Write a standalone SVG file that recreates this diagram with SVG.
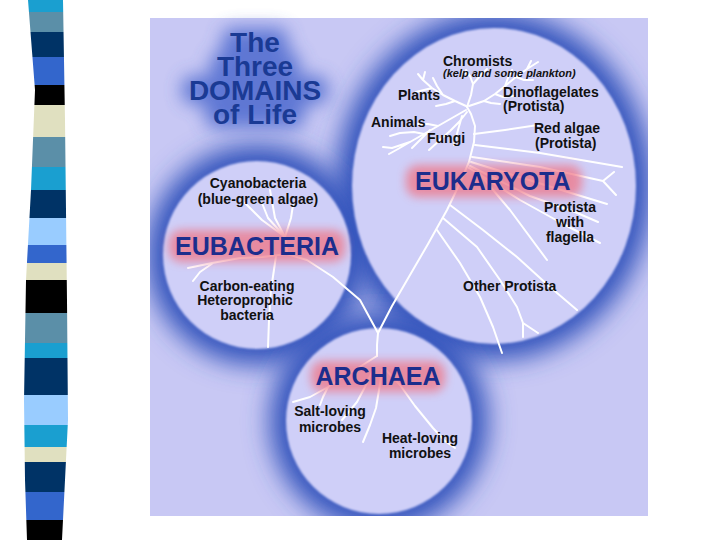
<svg xmlns="http://www.w3.org/2000/svg" width="720" height="540" viewBox="0 0 720 540">
<defs>
<style>
.lbl{font-family:"Liberation Sans",Arial,sans-serif;font-weight:bold;font-size:14px;fill:#111;}
.dom{font-family:"Liberation Sans",Arial,sans-serif;font-weight:bold;font-size:25px;fill:#1c2d8c;}
.ttl{font-family:"Liberation Sans",Arial,sans-serif;font-weight:bold;font-size:28px;text-anchor:middle;fill:#1a3a94;}
.br{fill:none;stroke:#fff;stroke-width:2;stroke-linecap:round;stroke-linejoin:round;}
.halo{fill:#3253bc;}
.disc{fill:#cfcff8;}
.pink{fill:#f07585;opacity:0.75;}
</style>
<filter id="blurH" x="-40%" y="-40%" width="180%" height="180%"><feGaussianBlur stdDeviation="13"/></filter>
<filter id="blurE" x="-10%" y="-10%" width="120%" height="120%"><feGaussianBlur stdDeviation="1"/></filter>
<filter id="blurP" x="-30%" y="-60%" width="160%" height="220%"><feGaussianBlur stdDeviation="5"/></filter>
<filter id="blurT" x="-40%" y="-40%" width="180%" height="180%"><feGaussianBlur stdDeviation="9"/></filter>
<clipPath id="panel"><rect x="150" y="18" width="498" height="498"/></clipPath>
<clipPath id="strip"><polygon points="28,0 63,0 65,120 67,300 68,420 64,500 62,540 27,540 25,480 24,400 26,280 31,190 35,90"/></clipPath>
</defs>
<rect width="720" height="540" fill="#fff"/>
<g id="strip-bands" clip-path="url(#strip)">
<rect x="20" y="0" width="50" height="12" fill="#1a9fd0"/>
<rect x="20" y="12" width="50" height="20" fill="#5b8fa8"/>
<rect x="20" y="32" width="50" height="25" fill="#003366"/>
<rect x="20" y="57" width="50" height="28" fill="#3366cc"/>
<rect x="20" y="85" width="50" height="20" fill="#000"/>
<rect x="20" y="105" width="50" height="32" fill="#e0e0c0"/>
<rect x="20" y="137" width="50" height="30" fill="#5b8fa8"/>
<rect x="20" y="167" width="50" height="23" fill="#1a9fd0"/>
<rect x="20" y="190" width="50" height="28" fill="#003366"/>
<rect x="20" y="218" width="50" height="27" fill="#99ccff"/>
<rect x="20" y="245" width="50" height="18" fill="#3366cc"/>
<rect x="20" y="263" width="50" height="17" fill="#e0e0c0"/>
<rect x="20" y="280" width="50" height="33" fill="#000"/>
<rect x="20" y="313" width="50" height="30" fill="#5b8fa8"/>
<rect x="20" y="343" width="50" height="15" fill="#1a9fd0"/>
<rect x="20" y="358" width="50" height="37" fill="#003366"/>
<rect x="20" y="395" width="50" height="30" fill="#99ccff"/>
<rect x="20" y="425" width="50" height="22" fill="#1a9fd0"/>
<rect x="20" y="447" width="50" height="15" fill="#e0e0c0"/>
<rect x="20" y="462" width="50" height="30" fill="#003366"/>
<rect x="20" y="492" width="50" height="28" fill="#3366cc"/>
<rect x="20" y="520" width="50" height="20" fill="#000"/>
</g>
<g id="panel-bg" clip-path="url(#panel)">
<rect x="150" y="18" width="498" height="498" fill="#c8c8f4"/>
<ellipse class="halo" cx="494" cy="186" rx="158" ry="174" filter="url(#blurH)"/>
<circle class="halo" cx="257" cy="255" r="110" filter="url(#blurH)"/>
<circle class="halo" cx="379" cy="421" r="109" filter="url(#blurH)"/>
<ellipse class="disc" cx="494" cy="186" rx="142" ry="158" filter="url(#blurE)"/>
<circle class="disc" cx="257" cy="255" r="94" filter="url(#blurE)"/>
<circle class="disc" cx="379" cy="421" r="93" filter="url(#blurE)"/>
</g>
<g id="node-title">
<g fill="#4464cc" filter="url(#blurT)" opacity="0.8">
<rect x="222" y="28" width="66" height="28" rx="10"/>
<rect x="210" y="52" width="90" height="28" rx="10"/>
<rect x="182" y="76" width="146" height="28" rx="10"/>
<rect x="205" y="100" width="100" height="28" rx="10"/>
</g>
<text class="ttl"><tspan x="255" y="52">The</tspan><tspan x="255" y="76">Three</tspan><tspan x="255" y="100">DOMAINS</tspan><tspan x="255" y="124">of Life</tspan></text>
</g>
<g id="connectors" class="br">
<path d="M378,333 L392,306 L410,275 L428,244 L447,210 L460,183 L469,162 L474,142 L475,126 L471,114 L467,107"/>
<path d="M467,107 L471,95 L473,84 L470,76 L466,70 M473,84 L480,76 L487,69 M470,76 L463,72"/>
<path d="M469,106 L484,101 L495,94 L505,86 L516,77 L527,69 L538,62 M495,94 L503,97 L514,96 M505,86 L508,78 L512,70 M516,77 L524,80 L533,80 M484,101 L491,103 L500,104 M527,69 L531,61"/>
<path d="M466,106 L455,101 L443,95 L432,88 L423,80 L418,74 M455,101 L446,104 L436,106 M443,95 L437,86 L433,78 M432,88 L424,90 L416,92 M423,80 L425,72"/>
<path d="M466,110 L452,118 L438,126 L424,134 L410,142 L398,149 L389,154 M438,126 L428,124 L418,124 M424,134 L414,132 L400,133 L390,136 M410,142 L401,145 L392,148 L383,147 M430,130 L420,140 L412,148"/>
<path d="M467,112 L459,122 L450,131 L440,140 L429,150 M462,116 L458,130 L454,145"/>
<path d="M474,134 L505,130 L538,125"/>
<path d="M475,145 L540,153 L622,167"/>
<path d="M472,157 L540,167 L603,181 M603,181 L614,172 M603,181 L616,195"/>
<path d="M471,162 L545,185 L607,204"/>
<path d="M470,166 L530,196 L575,212 L598,222"/>
<path d="M469,168 L520,200 L565,225 L600,243"/>
<path d="M478,172 L510,210 L547,260"/>
<path d="M450,205 L483,230 L517,257 L550,287 L577,310"/>
<path d="M443,218 L477,247 L500,280 L517,307 L523,323 L523,337 M523,323 L538,333"/>
<path d="M437,230 L460,263 L480,297 L493,327 L502,353"/>
<path d="M378,333 L360,300 L333,277 L307,260 L287,254"/>
<path d="M287,252 L285,237 M285,237 L291,218 L293,205 M285,237 L275,218 L270,190 M285,237 L268,218 L262,203 M285,237 L262,220 L245,203"/>
<path d="M287,254 L262,257 L240,258 L212,263 L188,268 M213,263 L200,272 L193,281"/>
<path d="M276,256 L271,290 L269,320 L268,347"/>
<path d="M378,333 L377,345 L377,356"/>
<path d="M377,356 L358,368 L343,377 L328,387 L310,397 L293,402 M328,387 L323,397 L320,405"/>
<path d="M372,372 L366,385 L357,402 L342,420"/>
<path d="M382,370 L379,390 L376,408 L370,425 L363,442"/>
<path d="M384,368 L400,385 L415,406 L433,428 L445,441 L455,448"/>
</g>
<g id="node-eukaryota">
<rect class="pink" x="406" y="165" width="176" height="32" rx="12" filter="url(#blurP)"/>
<text class="dom" x="415" y="190">EUKARYOTA</text>
</g>
<g id="node-eubacteria">
<rect class="pink" x="169" y="230" width="176" height="32" rx="12" filter="url(#blurP)"/>
<text class="dom" x="257" y="255" text-anchor="middle">EUBACTERIA</text>
</g>
<g id="node-archaea">
<rect class="pink" x="311" y="361" width="134" height="31" rx="12" filter="url(#blurP)"/>
<text class="dom" x="378" y="385" text-anchor="middle">ARCHAEA</text>
</g>
<g id="label-chromists">
<text class="lbl" x="443" y="66">Chromists</text>
<text class="lbl" x="443" y="77" style="font-size:11px;font-style:italic">(kelp and some plankton)</text>
</g>
<g id="label-plants"><text class="lbl" x="398" y="100">Plants</text></g>
<g id="label-dinoflagelates">
<text class="lbl" x="503" y="97">Dinoflagelates</text>
<text class="lbl" x="503" y="111">(Protista)</text>
</g>
<g id="label-animals"><text class="lbl" x="371" y="127">Animals</text></g>
<g id="label-fungi"><text class="lbl" x="427" y="143">Fungi</text></g>
<g id="label-red-algae">
<text class="lbl" x="534" y="133">Red algae</text>
<text class="lbl" x="535" y="148">(Protista)</text>
</g>
<g id="label-protista-flagella" text-anchor="middle">
<text class="lbl" x="570" y="212">Protista</text>
<text class="lbl" x="570" y="227">with</text>
<text class="lbl" x="570" y="242">flagella</text>
</g>
<g id="label-other-protista"><text class="lbl" x="463" y="291">Other Protista</text></g>
<g id="label-cyanobacteria" text-anchor="middle">
<text class="lbl" x="258" y="188">Cyanobacteria</text>
<text class="lbl" x="258" y="204">(blue-green algae)</text>
</g>
<g id="label-carbon-eating" text-anchor="middle">
<text class="lbl" x="247" y="291">Carbon-eating</text>
<text class="lbl" x="245" y="305">Heteroprophic</text>
<text class="lbl" x="247" y="320">bacteria</text>
</g>
<g id="label-salt-loving" text-anchor="middle">
<text class="lbl" x="330" y="416">Salt-loving</text>
<text class="lbl" x="330" y="432">microbes</text>
</g>
<g id="label-heat-loving" text-anchor="middle">
<text class="lbl" x="420" y="443">Heat-loving</text>
<text class="lbl" x="420" y="458">microbes</text>
</g>
</svg>
